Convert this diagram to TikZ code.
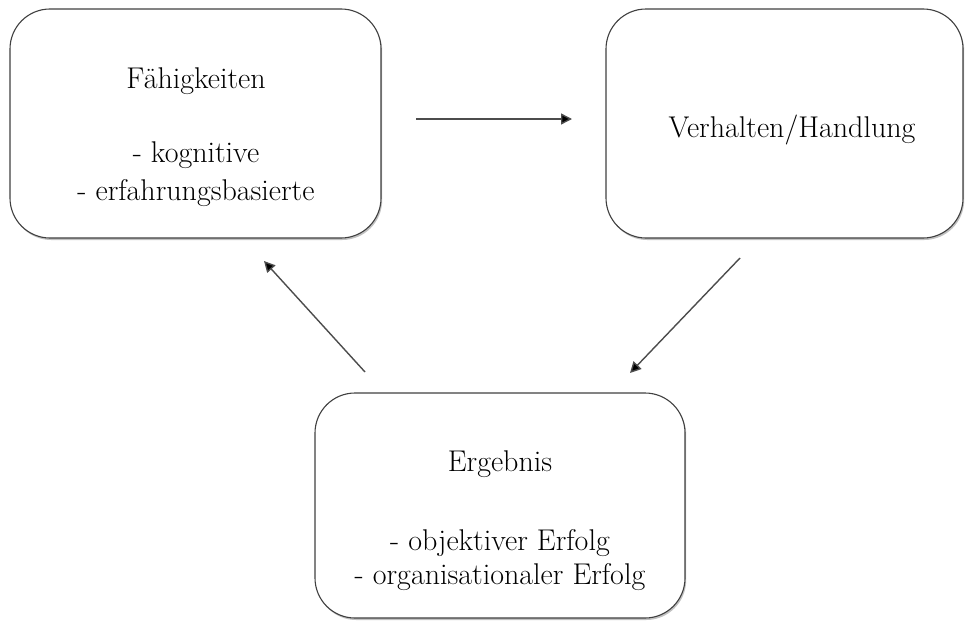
\documentclass[tikz,border=0pt]{standalone}
\usetikzlibrary{arrows.meta,shadows}
\begin{document}
\begin{tikzpicture}[x=1pt,y=-1pt,
  box/.style={draw=black!75, line width=1.1pt, rounded corners=40pt, fill=white,
    drop shadow={shadow xshift=1.2pt, shadow yshift=-2pt, opacity=0.35, fill=black!70}},
  txt/.style={align=center, font=\fontsize{30}{38}\selectfont, inner sep=0pt},
  flow/.style={draw=black!70, line width=1.4pt, -{Triangle[length=11pt,width=11pt,fill=black]}}]
\useasboundingbox (0,0) rectangle (965,621);

% the three stages
\node[box, minimum width=371pt, minimum height=229pt] (f) at (195.5,123.5) {};
\node[box, minimum width=357pt, minimum height=229pt] (v) at (784.5,123.5) {};
\node[box, minimum width=370pt, minimum height=225pt] (e) at (500,505.5) {};

% texts, anchored at the baseline of their last line
\node[txt, anchor=base] (ft) at (196,200) {F\"ahigkeiten\\[36pt] - kognitive\\ - erfahrungsbasierte};
\node[txt, anchor=base] (vt) at (792,137) {Verhalten/Handlung};
\node[txt, anchor=base] (et) at (500,584) {Ergebnis\\[41pt] - objektiver Erfolg\\[-4pt] - organisationaler Erfolg};

% arrow ends
\coordinate (a1s) at (416,119);
\coordinate (a1e) at (572,119);
\coordinate (a2s) at (740,258);
\coordinate (a2e) at (630,373);
\coordinate (a3s) at (365,372);
\coordinate (a3e) at (264,261);

\draw[flow] (a1s) -- (a1e);
\draw[flow] (a2s) -- (a2e);
\draw[flow] (a3s) -- (a3e);
\end{tikzpicture}
\end{document}
